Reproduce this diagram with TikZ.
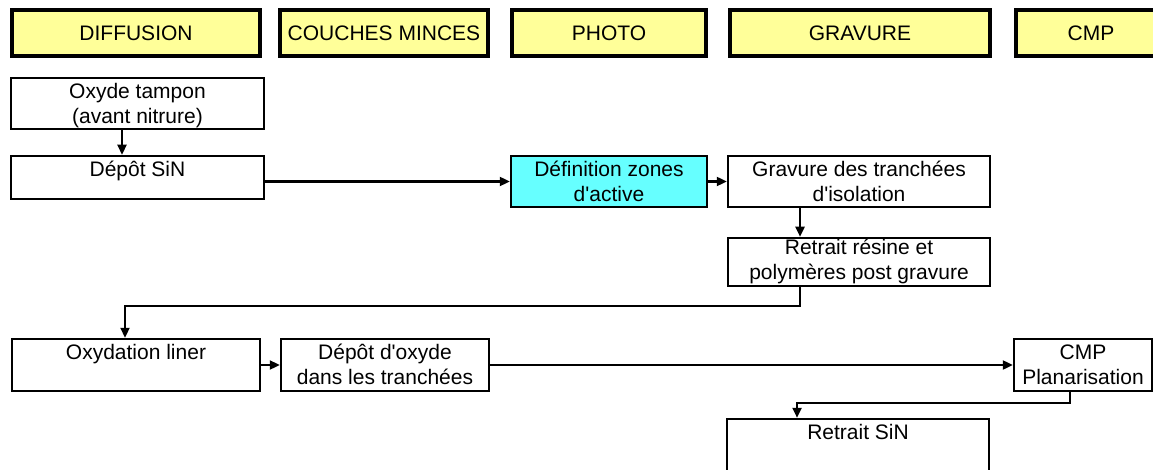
\documentclass[tikz,border=0pt]{standalone}
\usepackage{fontspec}
\setmainfont{Liberation Sans}
\usetikzlibrary{arrows.meta}
\definecolor{hdryellow}{HTML}{FFFF99}
\definecolor{photocyan}{HTML}{66FFFF}

\begin{document}
\begin{tikzpicture}[x=1pt, y=-1pt,
	hdr/.style={draw, line width=4pt, fill=hdryellow, inner sep=0pt, minimum height=46pt, font=\fontsize{21}{25}\selectfont},
	procbox/.style={draw, line width=2.5pt, fill=white, inner sep=0pt},
	proctxt/.style={anchor=north, inner sep=0pt, align=center, yshift=-4pt, font=\fontsize{21}{25}\selectfont},
	arr/.style={line width=2.3pt, -{Triangle[length=10pt, width=9pt]}}]
		%%%%% START %%%%%
		
		\useasboundingbox (0, 0) rectangle (1153, 470);
		\clip (0, 0) rectangle (1153, 470);
		
		% en-tetes des ateliers
		\node[hdr, minimum width=248pt] (diffusion) at (136, 33) {DIFFUSION};
		\node[hdr, minimum width=208pt] (couches) at (384, 33) {COUCHES MINCES};
		\node[hdr, minimum width=194pt] (photo) at (609, 33) {PHOTO};
		\node[hdr, minimum width=260pt] (gravure) at (860, 33) {GRAVURE};
		\node[hdr, minimum width=150pt] (cmp) at (1091, 33) {CMP};
		
		% etapes
		\node[procbox, minimum width=253pt, minimum height=51pt, label={[proctxt]north:{\strut Oxyde tampon\\\strut (avant nitrure)}}] (oxyde) at (137.5, 103.5) {};
		\node[procbox, minimum width=253pt, minimum height=43pt, label={[proctxt]north:{\strut D\'ep\^ot SiN}}] (depot) at (137.5, 177.5) {};
		\node[procbox, fill=photocyan, minimum width=196pt, minimum height=51pt, label={[proctxt]north:{\strut D\'efinition zones\\\strut d\textquotesingle active}}] (defin) at (609, 181.5) {};
		\node[procbox, minimum width=262pt, minimum height=51pt, label={[proctxt]north:{\strut Gravure des tranch\'ees\\\strut d\textquotesingle isolation}}] (gravtr) at (859, 181.5) {};
		\node[procbox, minimum width=262pt, minimum height=48pt, label={[proctxt, yshift=4pt]north:{\strut Retrait r\'esine et\\\strut polym\`eres post gravure}}] (retres) at (859, 262) {};
		
		\node[procbox, minimum width=248pt, minimum height=52pt, label={[proctxt]north:{\strut Oxydation liner}}] (oxyd) at (136, 365) {};
		\node[procbox, minimum width=208pt, minimum height=52pt, label={[proctxt]north:{\strut D\'ep\^ot d\textquotesingle oxyde\\\strut dans les tranch\'ees}}] (depox) at (385, 365) {};
		\node[procbox, minimum width=138pt, minimum height=52pt, label={[proctxt]north:{\strut CMP\\\strut Planarisation}}] (cmpp) at (1083, 365) {};
		\node[procbox, minimum width=262pt, minimum height=52pt, label={[proctxt]north:{\strut Retrait SiN}}] (retsin) at (858, 445) {};
		
		% liaisons
		\draw[arr] ([xshift=-15.5pt]oxyde.south) -- ([xshift=-15.5pt]depot.north);
		\draw[arr] (depot.east |- defin.west) -- (defin.west);
		\draw[arr] (defin.east) -- (gravtr.west);
		\draw[arr] ([xshift=-59pt]gravtr.south) -- ([xshift=-59pt]retres.north);
		\draw[arr] ([xshift=-59pt]retres.south) -- ++(0, 19) -| ([xshift=-11pt]oxyd.north);
		\draw[arr] (oxyd.east) -- (depox.west);
		\draw[arr] (depox.east) -- (cmpp.west);
		\draw[arr] ([xshift=-13pt]cmpp.south) -- ++(0, 11) -| ([xshift=-61pt]retsin.north);
		
		%%%%% END %%%%%
\end{tikzpicture}
\end{document}
